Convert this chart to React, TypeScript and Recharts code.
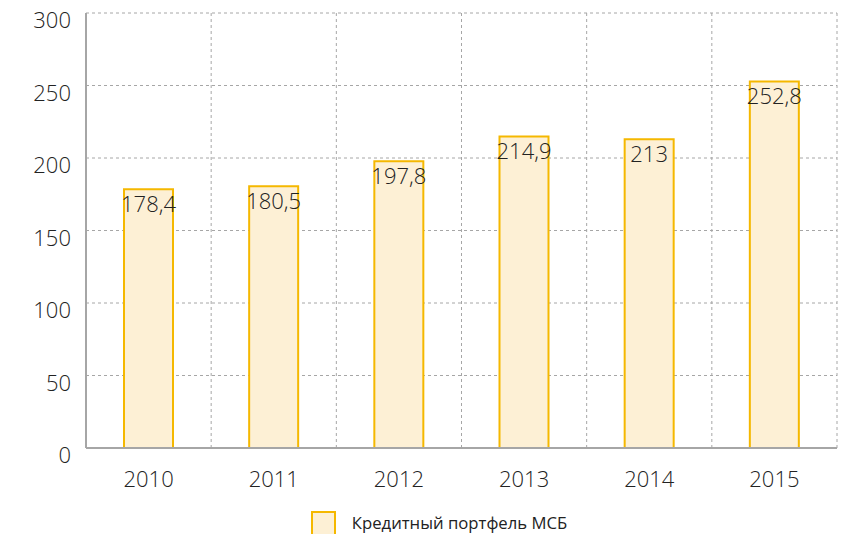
import React from "react";
import { BarChart, Bar, XAxis, YAxis, CartesianGrid, Legend, LabelList } from "recharts";

const years = ["2010", "2011", "2012", "2013", "2014", "2015"];
const portfolio = [178.4, 180.5, 197.8, 214.9, 213, 252.8];
const yTicks = [0, 50, 100, 150, 200, 250, 300];
const seriesName = "Кредитный портфель МСБ";

const data = years.map((y, i) => ({ year: y, value: portfolio[i] }));

const FONT = "'Open Sans', 'Noto Sans', sans-serif";

const fmt = (v: any) => String(v).replace(".", ",");

const YTick = (props: any) => {
  const { x, y, payload } = props;
  return (
    <text x={x} y={y} dy={15} textAnchor="end" fill="#222" fontSize={22} fontFamily={FONT} fontWeight={300}>
      {payload.value}
    </text>
  );
};

export default function App() {
  return (
    <div style={{ position: "absolute", left: 0, top: 0, width: 852, height: 534, background: "#fff", fontFamily: FONT, overflow: "hidden" }}>
      <BarChart
        width={852}
        height={534}
        data={data}
        margin={{ top: 13, right: 15, bottom: 0, left: 26 }}
        barSize={49}
      >
        <CartesianGrid
          stroke="#a6a6a6"
          strokeDasharray="3 3"
          verticalCoordinatesGenerator={({ offset }: any) =>
            years.map((_, i) => offset.left + ((i + 1) * offset.width) / years.length)
          }
        />
        <XAxis
          dataKey="year"
          axisLine={{ stroke: "#a6a6a6", strokeWidth: 2 }}
          tickLine={false}
          height={63}
          tick={{ fill: "#222", fontSize: 22, fontFamily: FONT, fontWeight: 300 }}
          tickMargin={17}
        />
        <YAxis
          domain={[0, 300]}
          ticks={yTicks}
          width={60}
          axisLine={{ stroke: "#a6a6a6", strokeWidth: 2 }}
          tickLine={false}
          tick={<YTick />}
          tickMargin={9}
          interval={0}
        />
        <Legend
          verticalAlign="bottom"
          align="center"
          content={() => (
            <div style={{ display: "flex", justifyContent: "center", alignItems: "center", height: 23, marginLeft: 15 }}>
              <div style={{ width: 21, height: 21, background: "#fdf0d5", border: "2px solid #f5b800", marginRight: 16, marginTop: 2 }} />
              <span style={{ fontSize: 16.7, color: "#222", fontFamily: FONT, lineHeight: "23px" }}>{seriesName}</span>
            </div>
          )}
        />
        <Bar
          dataKey="value"
          name={seriesName}
          fill="#fdf0d5"
          stroke="#f5b800"
          strokeWidth={2}
          isAnimationActive={false}
        >
          <LabelList
            dataKey="value"
            position="insideTop"
            offset={7}
            formatter={fmt}
            style={{ fill: "#222", fontSize: 22, fontFamily: FONT, fontWeight: 300 }}
          />
        </Bar>
      </BarChart>
    </div>
  );
}
